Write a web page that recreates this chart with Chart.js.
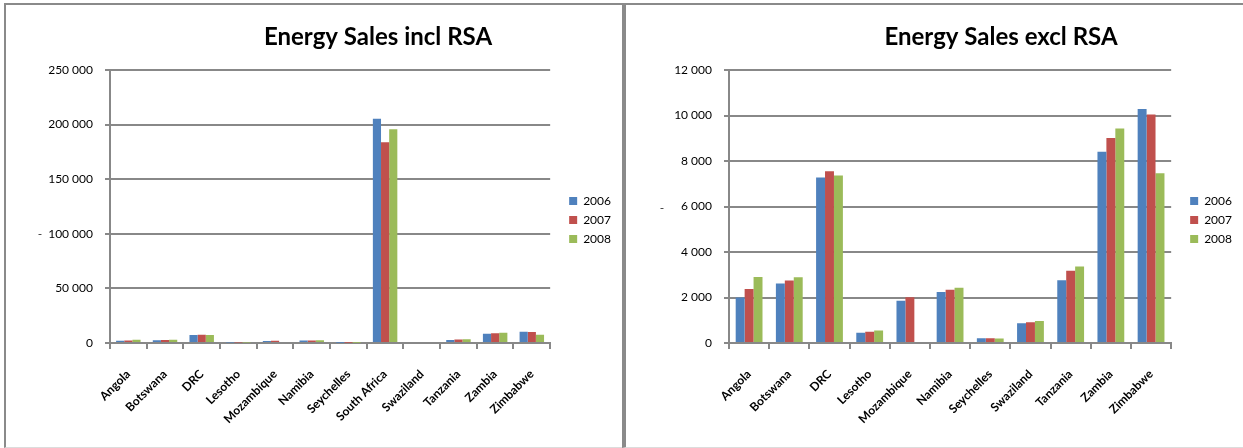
<!DOCTYPE html>
<html>
<head>
<meta charset="utf-8">
<script src="https://cdn.jsdelivr.net/npm/chart.js@4/dist/chart.umd.min.js"></script>
<style>
    body { margin: 0; width: 1243px; height: 448px; overflow: hidden; background: #fff; }
    .panel {
        position: absolute;
        top: 3px;
        height: 442px;
        border-top: 2px solid #8a8a8a;
        border-bottom: 1px solid #dcdcdc;
        overflow: hidden;
    }
    #panel-incl { left: 4px; width: 616px; border-left: 2px solid #8a8a8a; }
    #panel-excl { left: 622px; width: 617px; border-left: 4px solid #8a8a8a; }
    .panel canvas { position: absolute; left: 0; top: 0; }
</style>
</head>
<body>
<div class="panel" id="panel-incl"><canvas id="sales-incl" width="744" height="441"></canvas></div>
<div class="panel" id="panel-excl"><canvas id="sales-excl" width="750" height="441"></canvas></div>
<script>
const countries = ['Angola', 'Botswana', 'DRC', 'Lesotho', 'Mozambique', 'Namibia', 'Seychelles', 'South Africa', 'Swaziland', 'Tanzania', 'Zambia', 'Zimbabwe']
const years = ['2006', '2007', '2008']
const sales2006 = [2000, 2610, 7270, 450, 1860, 2240, 210, 205400, 870, 2760, 8410, 10290]
const sales2007 = [2370, 2750, 7550, 500, 2010, 2340, 210, 183800, 910, 3180, 9010, 10040]
const sales2008 = [2900, 2890, 7360, 550, null, 2430, 200, 195700, 970, 3360, 9430, 7460]
const ticksIncl = { max: 250000, step: 50000 }
const ticksExcl = { max: 12000, step: 2000 }

;(() => {
    const colors = ['#4f81bd', '#c0504d', '#9bbb59']
    const gridGrey = '#888888'
    const font = 'Lato'

    const fmt = (v) => String(v).replace(/\B(?=(\d{3})+(?!\d))/g, ' ')

    // little "-" left of the value axis
    const dashMark = {
        id: 'dashMark',
        afterDraw: (chart, args, opts) => {
            const { ctx, chartArea } = chart
            ctx.save()
            ctx.fillStyle = '#333'
            ctx.font = `12px ${font}`
            ctx.textAlign = 'center'
            ctx.textBaseline = 'middle'
            ctx.fillText('-', chartArea.left + opts.dx, (chartArea.top + chartArea.bottom) / 2 + opts.dy)
            ctx.restore()
        },
    }

    // invisible scale used only to reserve horizontal room on the right
    const spacer = (width, weight) => ({
        type: 'linear',
        position: 'right',
        weight: weight,
        grid: { display: false },
        border: { display: false },
        ticks: { display: false },
        afterFit: (s) => { s.width = width },
    })

    const renderSalesChart = (canvasId, title, labels, series, ticks, layout) => {
        new Chart(document.getElementById(canvasId), {
            type: 'bar',
            data: {
                labels: labels,
                datasets: series.map((values, i) => ({
                    label: years[i],
                    data: values,
                    backgroundColor: colors[i],
                    borderWidth: 0,
                    categoryPercentage: 0.667,
                    barPercentage: 1,
                })),
            },
            options: {
                responsive: false,
                animation: false,
                devicePixelRatio: 1,
                layout: { padding: 0 },
                plugins: {
                    title: {
                        display: true,
                        text: title,
                        color: '#000',
                        font: { family: font, size: 24, weight: 'bold' },
                        padding: { top: 17.6, bottom: 18.6 },
                    },
                    legend: {
                        position: 'right',
                        align: 'start',
                        title: { display: true, text: ' ', font: { family: font, size: 12 }, padding: { top: 0, bottom: 168.6 } },
                        labels: {
                            boxWidth: 8,
                            boxHeight: 8,
                            padding: 7,
                            color: '#000',
                            font: { family: font, size: 12 },
                        },
                    },
                    tooltip: { enabled: false },
                    dashMark: layout.dash,
                },
                scales: {
                    x: {
                        grid: { drawOnChartArea: false, color: gridGrey, lineWidth: 2, tickLength: 6, offset: true },
                        border: { color: gridGrey, width: 2 },
                        ticks: {
                            color: '#000',
                            font: { family: font, size: 12, weight: 'bold' },
                            minRotation: 45,
                            maxRotation: 45,
                            autoSkip: false,
                            padding: 18,
                        },
                        afterFit: (s) => { s.height = 103 },
                    },
                    y: {
                        min: 0,
                        max: ticks.max,
                        grid: { color: gridGrey, lineWidth: 2, tickLength: 5 },
                        border: { color: gridGrey, width: 2 },
                        ticks: {
                            stepSize: ticks.step,
                            color: '#000',
                            padding: 12,
                            font: { family: font, size: 12 },
                            callback: (v) => fmt(v),
                        },
                        afterFit: (s) => { s.width = layout.axisWidth },
                    },
                    gap: spacer(12, 0),
                    edge: spacer(layout.edge, 5000),
                },
            },
            plugins: [dashMark],
        })
    }

    const rsa = countries.indexOf('South Africa')
    const dropRsa = (arr) => arr.filter((_, i) => i !== rsa)

    renderSalesChart(
        'sales-incl',
        'Energy Sales incl RSA',
        countries,
        [sales2006, sales2007, sales2008],
        ticksIncl,
        { edge: 129, axisWidth: 104, dash: { dx: -70, dy: 28 } }
    )

    renderSalesChart(
        'sales-excl',
        'Energy Sales excl RSA',
        dropRsa(countries),
        [dropRsa(sales2006), dropRsa(sales2007), dropRsa(sales2008)],
        ticksExcl,
        { edge: 134, axisWidth: 103, dash: { dx: -67, dy: 2 } }
    )
})()
</script>
</body>
</html>
